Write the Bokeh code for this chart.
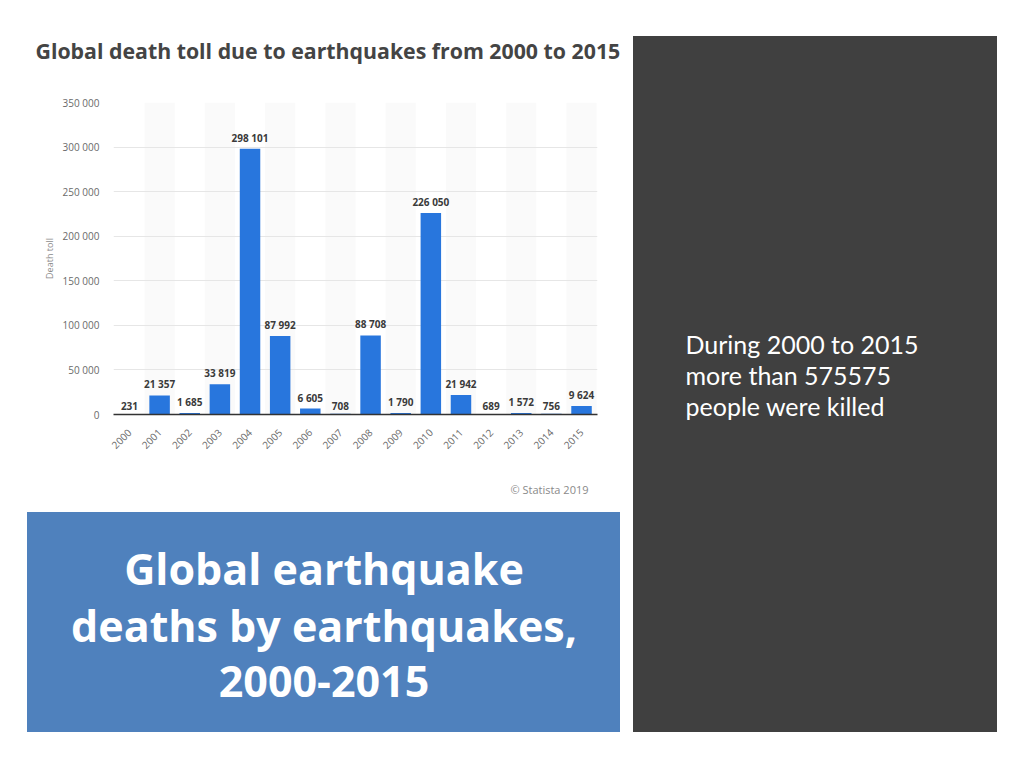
import math
from bokeh.plotting import figure
from bokeh.layouts import row, column
from bokeh.models import Range1d, Label, FixedTicker, ColumnDataSource
from bokeh.core.properties import value
from bokeh.embed import file_html
from bokeh.resources import INLINE

# ---------------- data ----------------
years = list(range(2000, 2016))
deaths = [231, 21357, 1685, 33819, 298101, 87992, 6605, 708,
          88708, 1790, 226050, 21942, 689, 1572, 756, 9624]
y_ticks = [0, 50000, 100000, 150000, 200000, 250000, 300000, 350000]

chart_title = "Global death toll due to earthquakes from 2000 to 2015"
y_label = "Death toll"
credit = "© Statista 2019"
box_lines = ["Global earthquake", "deaths by earthquakes,", "2000-2015"]
side_lines = ["During 2000 to 2015", "more than 575575", "people were killed"]


def fmt(v):
    return f"{v:,}".replace(",", " ")


src = ColumnDataSource(dict(x=years, top=deaths, lbl=[fmt(v) for v in deaths]))
band_years = [y for y in years if y % 2 == 1]


def panel(w, h, margin=None, bg="white"):
    f = figure(width=w, height=h, x_range=Range1d(0, w), y_range=Range1d(0, h),
               x_axis_type=None, y_axis_type=None,
               output_backend="svg", toolbar_location=None,
               min_border=0, margin=margin,
               background_fill_color=None, border_fill_color=None,
               outline_line_color=None,
               styles={"background-color": bg})
    f.frame_align = False
    f.xgrid.grid_line_color = None
    f.ygrid.grid_line_color = None
    return f


# ---------------- chart title strip ----------------
head = panel(617, 70)
head.add_layout(Label(x=27, y=28, text=chart_title,
                      text_font="Open Sans", text_font_size="21.3px",
                      text_font_style="bold", text_color="#444444",
                      text_align="left", text_baseline="middle"))

# ---------------- chart ----------------
chart = figure(width=617, height=392,
               x_range=Range1d(1999.47, 2015.53), y_range=Range1d(0, 350000),
               output_backend="svg", toolbar_location=None,
               min_border_left=105, min_border_right=28,
               min_border_top=24, min_border_bottom=56,
               background_fill_color="white", border_fill_color="white",
               outline_line_color=None)
chart.frame_align = False

chart.xgrid.grid_line_color = None
chart.ygrid.grid_line_color = "#e6e6e6"

# faint alternating column bands behind the bars
chart.vbar(x=band_years, top=y_ticks[-1], bottom=0, width=1.0,
           fill_color="#fafafa", line_color=None, level="image")

ya = chart.yaxis[0]
ya.ticker = FixedTicker(ticks=y_ticks)
ya.major_label_overrides = {t: fmt(t) for t in y_ticks}
ya.axis_line_color = None
ya.major_tick_line_color = None
ya.minor_tick_line_color = None
ya.major_label_text_color = "#6a6a6a"
ya.major_label_text_font = "Open Sans"
ya.major_label_text_font_size = "10px"
ya.major_label_standoff = 8
ya.axis_label = y_label
ya.axis_label_text_font = "Open Sans"
ya.axis_label_text_font_size = "9px"
ya.axis_label_text_font_style = "normal"
ya.axis_label_text_color = "#8a8a8a"
ya.axis_label_standoff = 4

xa = chart.xaxis[0]
xa.ticker = FixedTicker(ticks=years)
xa.major_label_overrides = {y: str(y) for y in years}
xa.axis_line_color = "#333333"
xa.axis_line_width = 1.5
xa.major_tick_line_color = None
xa.minor_tick_line_color = None
xa.major_label_orientation = math.pi / 4
xa.major_label_text_color = "#6a6a6a"
xa.major_label_text_font = "Open Sans"
xa.major_label_text_font_size = "10px"
xa.major_label_standoff = 10

chart.vbar(x="x", top="top", width=0.68, source=src,
           fill_color="#2876DD", line_color=None)
chart.text(x="x", y="top", text="lbl", source=src,
           text_align="center", text_baseline="bottom", y_offset=-4,
           text_font=value("Open Sans"), text_font_size="10px",
           text_font_style="bold", text_color="#3a3a3a")

# ---------------- source credit strip ----------------
foot = panel(617, 27)
foot.add_layout(Label(x=580, y=8, text=credit,
                      text_font="Open Sans", text_font_size="11px",
                      text_color="#8a8a8a",
                      text_align="right", text_baseline="middle"))

# ---------------- blue title box ----------------
box = panel(593, 220, margin=(15, 5, 0, 19), bg="#4F81BD")
for i, line in enumerate(box_lines):
    box.add_layout(Label(x=296.5, y=164 - 56.5 * i, text=line,
                         text_font="Open Sans", text_font_size="43px",
                         text_font_style="bold", text_color="white",
                         text_align="center", text_baseline="middle"))

# ---------------- dark side panel ----------------
side = panel(364, 696, margin=(28, 0, 0, 8), bg="#404040")
for i, line in enumerate(side_lines):
    side.add_layout(Label(x=52, y=389 - 31 * i, text=line,
                          text_font="Lato", text_font_size="25px",
                          text_color="white",
                          text_align="left", text_baseline="middle"))

layout = row(column(head, chart, foot, box), side, margin=(8, 0, 0, 8))

open("out.html", "w").write(file_html(layout, INLINE))
